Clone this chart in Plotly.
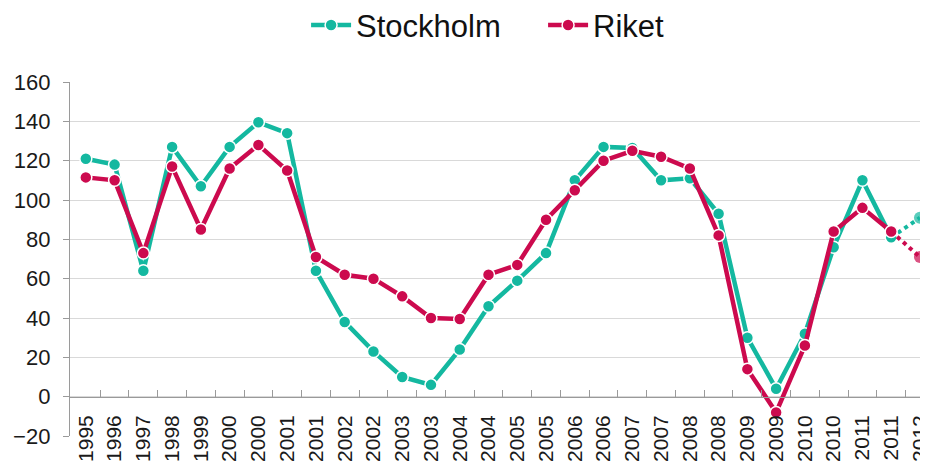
import plotly.graph_objects as go

labels = ["1995", "1996", "1997", "1998", "1999", "2000", "2000", "2001", "2001", "2002",
          "2002", "2003", "2003", "2004", "2004", "2005", "2005", "2006", "2006", "2007",
          "2007", "2008", "2008", "2009", "2009", "2010", "2010", "2011", "2011", "2012"]
stockholm = [121, 118, 64, 127, 107, 127, 139.5, 134, 64, 38,
             23, 10, 6, 24, 46, 59, 73, 110, 127, 126.5,
             110, 111, 93, 30, 4, 32, 76, 110, 81, 91]
riket = [111.5, 110, 73, 117, 85, 116, 128, 115, 71, 62,
         60, 51, 40, 39.5, 62, 67, 90, 105, 120, 125,
         122, 116, 82, 14, -8, 26, 84, 96, 84, 71]
y_ticks = [-20, 0, 20, 40, 60, 80, 100, 120, 140, 160]

idx = list(range(len(labels)))
n_solid = len(labels) - 1

series = [("Stockholm", stockholm, "#14B8A0"), ("Riket", riket, "#CC0A4E")]

fig = go.Figure()
for name, vals, col in series:
    fig.add_trace(go.Scatter(
        x=idx[:n_solid], y=vals[:n_solid], name=name, mode="lines+markers",
        line=dict(color=col, width=4.5),
        marker=dict(size=12, color=col, line=dict(color="white", width=1.5)),
    ))
    fig.add_trace(go.Scatter(
        x=idx[n_solid - 1:], y=vals[n_solid - 1:], name=name, mode="lines+markers",
        showlegend=False,
        line=dict(color=col, width=4, dash="dot"),
        marker=dict(size=[0, 12], color=col, line=dict(width=0)),
    ))

# page body has an 8px margin: figure sits at (8, 8) in the 928x463 window
fig.update_layout(
    width=920, height=455,
    margin=dict(l=62, r=0, t=74, b=27),
    paper_bgcolor="white", plot_bgcolor="white",
    font=dict(family="Liberation Sans, Arial, sans-serif", color="#1a1a1a"),
    legend=dict(orientation="h", xref="container", x=0.324, xanchor="left",
                yref="container", y=0.962, yanchor="middle",
                font=dict(size=31, color="#111"), itemwidth=40,
                entrywidth=182, entrywidthmode="pixels"),
    showlegend=True,
)
fig.update_xaxes(
    range=[-0.55, 29.28],
    tickmode="array", tickvals=idx, ticktext=labels, tickangle=-90,
    tickfont=dict(size=21), ticks="", ticklabelstandoff=9,
    ticklabeloverflow="allow",
    showgrid=False, zeroline=False,
    showline=True, linecolor="#9a9a9a", linewidth=1.3,
    anchor="free", position=20 / 180,
    minor=dict(tickvals=[i + 0.5 for i in idx[:-1]], ticks="inside",
               ticklen=7, tickcolor="#9a9a9a", tickwidth=1.3, showgrid=False),
    automargin=False,
)
fig.update_yaxes(
    range=[-20, 160], tickvals=y_ticks,
    tickfont=dict(size=22),
    showgrid=True, gridcolor="#d9d9d9", gridwidth=1.3,
    zeroline=False,
    showline=True, linecolor="#9a9a9a", linewidth=1.3,
    ticks="outside", ticklen=6, tickcolor="#9a9a9a", ticklabelstandoff=8,
    automargin=False,
)

fig.write_html("out.html")
